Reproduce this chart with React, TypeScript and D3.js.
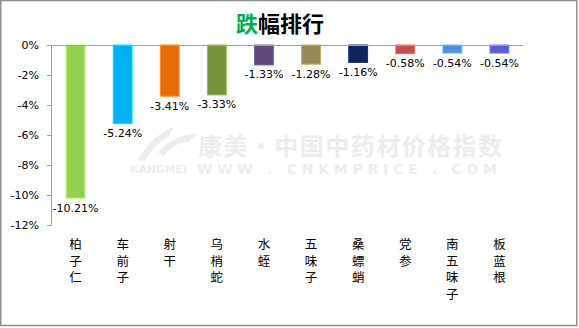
import React from "react";
import * as d3 from "d3";

const categories = ["柏子仁", "车前子", "射干", "乌梢蛇", "水蛭", "五味子", "桑螵蛸", "党参", "南五味子", "板蓝根"];
const values = [-10.21, -5.24, -3.41, -3.33, -1.33, -1.28, -1.16, -0.58, -0.54, -0.54];
const colors = ["#92D050", "#00B0F0", "#E46C0A", "#77933C", "#604A7B", "#948A54", "#0F2360", "#C0504D", "#558ED5", "#5B5BD2"];
const yTicks = [0, -2, -4, -6, -8, -10, -12];

const W = 579;
const H = 328;

export default function App() {
  const y = d3.scaleLinear().domain([-12, 0]).range([225, 45]);
  const x = d3.scaleBand<string>().domain(categories).range([52, 523]).paddingInner(0.6).paddingOuter(0.3);
  const font = "'DejaVu Sans', Verdana, sans-serif";
  const cjk = "'Noto Sans CJK SC', sans-serif";
  const wm = "#ececec";
  return (
    <svg width={W} height={H} style={{ position: "absolute", left: 0, top: 0, background: "#fff" }}>
      <rect x={0.75} y={0.5} width={576} height={325} fill="#fff" stroke="#8f8f8f" strokeWidth={1.5} />
      {/* watermark */}
      <path d="M138,160 C148,142 160,132 174,127 L169,136 C160,141 151,150 145,161 Z" fill={wm} />
      <path d="M158,152 C168,141 182,134 197,134 L189,142 C178,142 170,148 163,157 Z" fill={wm} />
      <text x={198} y={144} textLength={304} lengthAdjust="spacing" dominantBaseline="central" fontFamily={cjk} fontSize={24} fontWeight="bold" fill={wm}>康美·中国中药材价格指数</text>
      <text x={130} y={169} textLength={57} lengthAdjust="spacingAndGlyphs" dominantBaseline="central" fontFamily={font} fontSize={10} fontWeight="bold" fill={wm}>KANGMEI</text>
      <text x={197} y={169} textLength={300} lengthAdjust="spacing" dominantBaseline="central" fontFamily={font} fontSize={14} fontWeight="bold" fill={wm}>WWW . CNKMPRICE . COM</text>
      {/* title */}
      <text x={280} y={22} textAnchor="middle" dominantBaseline="central" fontFamily={cjk} fontSize={22} fontWeight="bold">
        <tspan fill="#00B050">跌</tspan>
        <tspan fill="#000">幅排行</tspan>
      </text>
      {/* y axis */}
      <line x1={51.5} x2={51.5} y1={45} y2={225.5} stroke="#a0a0a0" />
      {yTicks.map((t) => (
        <g key={t}>
          <line x1={47} x2={51.5} y1={Math.round(y(t)) + 0.5} y2={Math.round(y(t)) + 0.5} stroke="#a0a0a0" />
          <text x={39} y={y(t)} textAnchor="end" dominantBaseline="central" fontFamily={font} fontSize={11} fill="#000">
            {t + "%"}
          </text>
        </g>
      ))}
      {/* bars */}
      {categories.map((c, i) => {
        const bx = x(c)!;
        const bw = x.bandwidth();
        const y0 = y(0);
        const y1 = y(values[i]);
        const cx = bx + bw / 2;
        return (
          <g key={c}>
            <rect x={bx} y={y0} width={bw} height={y1 - y0} fill={colors[i]}
              stroke={d3.color(colors[i])!.brighter(0.7).formatHex()} strokeWidth={1} />
            <text x={cx} y={y1 + 10} textAnchor="middle" dominantBaseline="central" fontFamily={font} fontSize={11} fill="#000">
              {values[i].toFixed(2) + "%"}
            </text>
            <text textAnchor="middle" dominantBaseline="central" fontFamily={cjk} fontSize={12.5} fill="#000">
              {Array.from(c).map((ch, j) => (
                <tspan key={j} x={cx} y={243 + j * 16.7}>{ch}</tspan>
              ))}
            </text>
          </g>
        );
      })}
      {/* zero line */}
      <line x1={51.5} x2={523} y1={45.5} y2={45.5} stroke="#a0a0a0" />
    </svg>
  );
}
